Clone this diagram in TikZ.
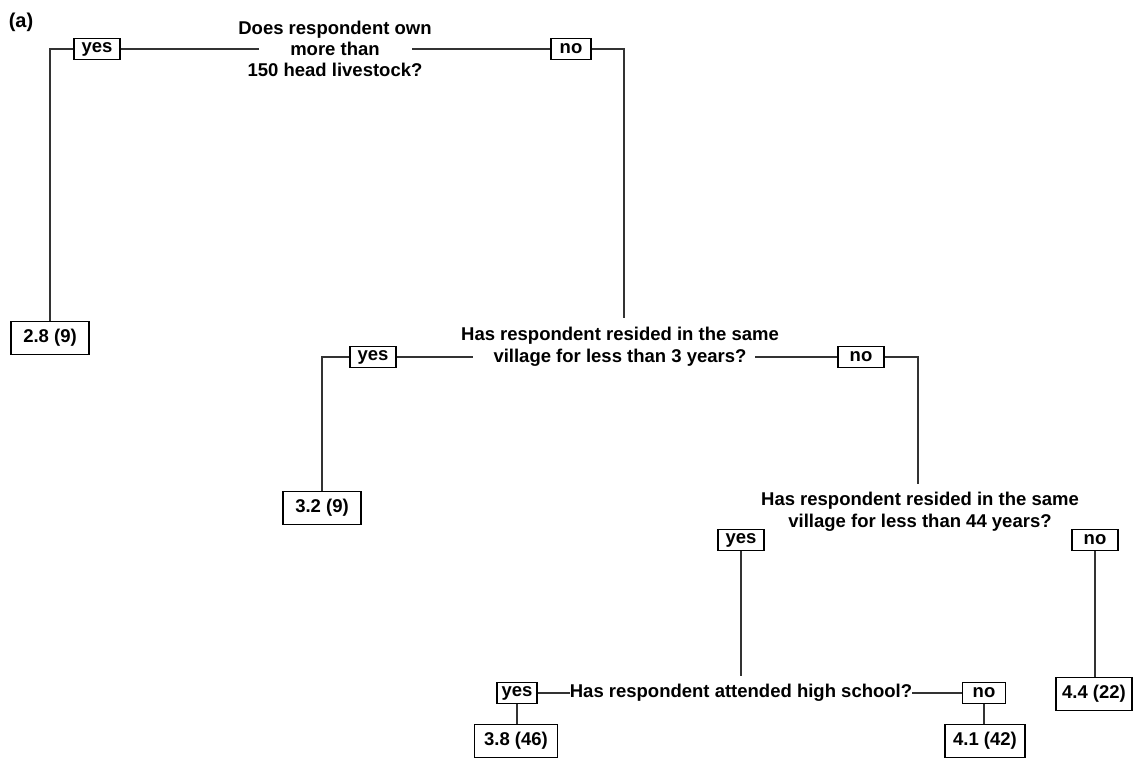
\documentclass[tikz,border=0pt]{standalone}
\usepackage{fontspec}
\setmainfont{Liberation Sans}
\begin{document}
\begin{tikzpicture}[x=1pt,y=-1pt,
  every node/.style={font=\fontsize{18.5}{22}\selectfont\bfseries, text=black},
  lbl/.style={draw=black, line width=1.3pt, inner sep=0pt, minimum width=46pt, minimum height=21pt},
  leaf/.style={draw=black, line width=1.3pt, inner sep=0pt, minimum height=33pt},
  q/.style={align=center, inner sep=0pt},
  conn/.style={draw=black!80, line width=1.3pt}]
\useasboundingbox (0,0) rectangle (1133,774);
\node[font=\fontsize{20}{24}\selectfont\bfseries] (lab) at (21,22) {(a)};
% level 1
\node[q, font=\fontsize{18.5}{21}\selectfont\bfseries] (q1) at (335,49) {Does respondent own\\more than\\150 head livestock?};
\node[lbl] (y1) at (97,49) {yes};
\node[lbl, minimum width=40pt] (n1) at (571,49) {no};
\node[leaf, minimum width=78pt] (l1) at (50,338) {2.8 (9)};
\coordinate (q1l) at (259,49);
\coordinate (q1r) at (412,49);
% level 2
\node[q] (q2) at (620,347) {Has respondent resided in the same\\village for less than 3 years?};
\node[lbl] (y2) at (373,357) {yes};
\node[lbl] (n2) at (861,357) {no};
\node[leaf, minimum width=78pt] (l2) at (322,508) {3.2 (9)};
\coordinate (q2t) at (624,318);
\coordinate (q2l) at (473,357);
\coordinate (q2r) at (755,357);
% level 3
\node[q] (q3) at (920,512) {Has respondent resided in the same\\village for less than 44 years?};
\node[lbl] (y3) at (741,540) {yes};
\node[lbl] (n3) at (1095,540) {no};
\node[leaf, minimum width=76pt] (l3) at (1094,694) {4.4 (22)};
\coordinate (q3t) at (918,484);
\coordinate (y3b) at (741,676);
% level 4
\node[q] (q4) at (741,693) {Has respondent attended high school?};
\node[lbl, minimum width=40pt] (y4) at (517,693) {yes};
\node[lbl, minimum width=43pt] (n4) at (984,693) {no};
\node[leaf, minimum width=83pt] (l4) at (516,741) {3.8 (46)};
\node[leaf, minimum width=80pt] (l5) at (985,741) {4.1 (42)};
% connectors
\draw[conn] (y1.west) -| (l1.north);
\draw[conn] (y1.east) -- (q1l);
\draw[conn] (q1r) -- (n1.west);
\draw[conn] (n1.east) -| (q2t);
\draw[conn] (y2.west) -| (l2.north);
\draw[conn] (y2.east) -- (q2l);
\draw[conn] (q2r) -- (n2.west);
\draw[conn] (n2.east) -| (q3t);
\draw[conn] (y3.south) -- (y3b);
\draw[conn] (n3.south) -- (n3.south |- l3.north);
\draw[conn] (y4.east) -- (q4.west);
\draw[conn] (q4.east) -- (n4.west);
\draw[conn] (y4.south) -- (y4.south |- l4.north);
\draw[conn] (n4.south) -- (n4.south |- l5.north);
\end{tikzpicture}
\end{document}
